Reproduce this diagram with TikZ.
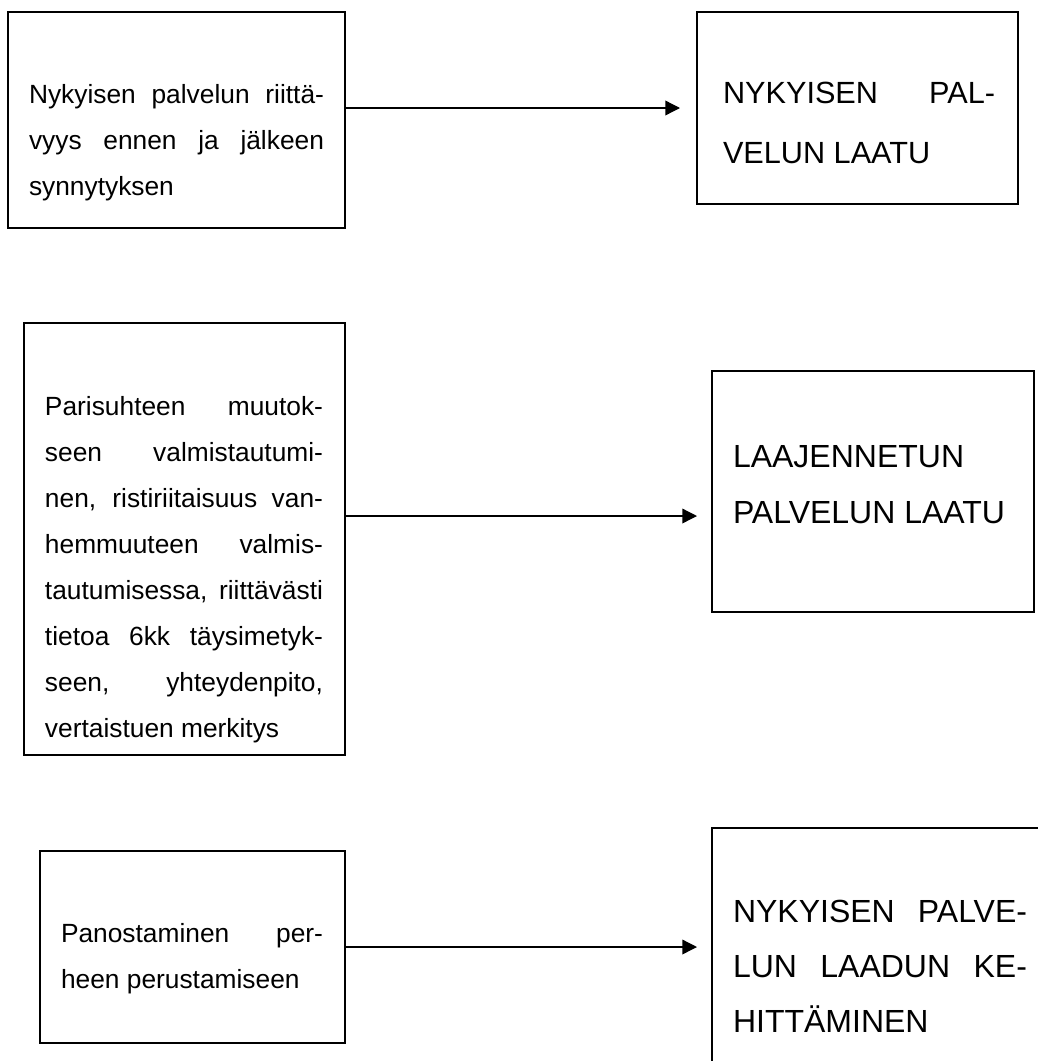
\documentclass[tikz,border=0pt]{standalone}
\usepackage{fontspec}
\setmainfont{Liberation Sans}
\usetikzlibrary{arrows.meta,calc}
\newcommand{\jl}[2]{\makebox[#1][s]{#2}}
\tikzset{
  box/.style={draw=black, line width=1pt, anchor=north west, inner sep=0pt, outer sep=0pt},
  lbl/.style={anchor=base west, inner sep=0pt, outer sep=0pt, align=left},
  arr/.style={line width=1pt, -{Triangle[length=11pt,width=11pt]}},
}
\newcommand{\lfont}{\fontsize{19.75pt}{34.5pt}\selectfont}
\newcommand{\rfont}[2]{\fontsize{#1}{#2}\selectfont}
\begin{document}
\begin{tikzpicture}[x=0.75pt,y=-0.75pt]
\clip (0,0) rectangle (1038,1061);
\fill[white] (0,0) rectangle (1038,1061);
% boxes
\node[box, minimum width=252.75pt, minimum height=162pt] (b1) at (8,12) {};
\node[box, minimum width=240.75pt, minimum height=144pt] (b2) at (697,12) {};
\node[box, minimum width=240.75pt, minimum height=324pt] (b3) at (24,323) {};
\node[box, minimum width=241.5pt, minimum height=180.75pt] (b4) at (712,371) {};
\node[box, minimum width=228.75pt, minimum height=144pt] (b5) at (40,851) {};
\node[box, minimum width=260pt, minimum height=200pt] (b6) at (712,828) {};
% texts
\node[lbl] (t1) at (29,103) {\parbox[t]{221.25pt}{\lfont
\jl{221.25pt}{Nykyisen palvelun riittä-}\\
\jl{221.25pt}{vyys ennen ja jälkeen}\\
synnytyksen}};
\node[lbl] (t2) at (723,103) {\parbox[t]{204pt}{\rfont{23pt}{45pt}
\jl{204pt}{NYKYISEN PAL-}\\
VELUN LAATU}};
\node[lbl] (t3) at (45,415) {\parbox[t]{208.5pt}{\lfont
\jl{208.5pt}{Parisuhteen muutok-}\\
\jl{208.5pt}{seen valmistautumi-}\\
\jl{208.5pt}{nen, ristiriitaisuus van-}\\
\jl{208.5pt}{hemmuuteen valmis-}\\
\jl{208.5pt}{tautumisessa, riittävästi}\\
\jl{208.5pt}{tietoa 6kk täysimetyk-}\\
\jl{208.5pt}{seen, yhteydenpito,}\\
vertaistuen merkitys}};
\node[lbl] (t4) at (733,467) {\parbox[t]{225pt}{\rfont{24pt}{42pt}
LAAJENNETUN\\
PALVELUN LAATU}};
\node[lbl] (t5) at (61,942) {\parbox[t]{196.5pt}{\lfont
\jl{196.5pt}{Panostaminen per-}\\
heen perustamiseen}};
\node[lbl] (t6) at (733,922) {\parbox[t]{220.5pt}{\rfont{24pt}{41.25pt}
\jl{220.5pt}{NYKYISEN PALVE-}\\
\jl{220.5pt}{LUN LAADUN KE-}\\
HITTÄMINEN}};
% connectors
\draw[arr] (b1.east |- b2.west) -- ($(b2.west)+(-17,0)$);
\draw[arr] ($(b3.east)+(0,-23)$) -- ($(b4.west |- b3.east)+(-15,-23)$);
\draw[arr] (b5.east) -- ($(b6.west |- b5.east)+(-15,0)$);
\end{tikzpicture}
\end{document}
